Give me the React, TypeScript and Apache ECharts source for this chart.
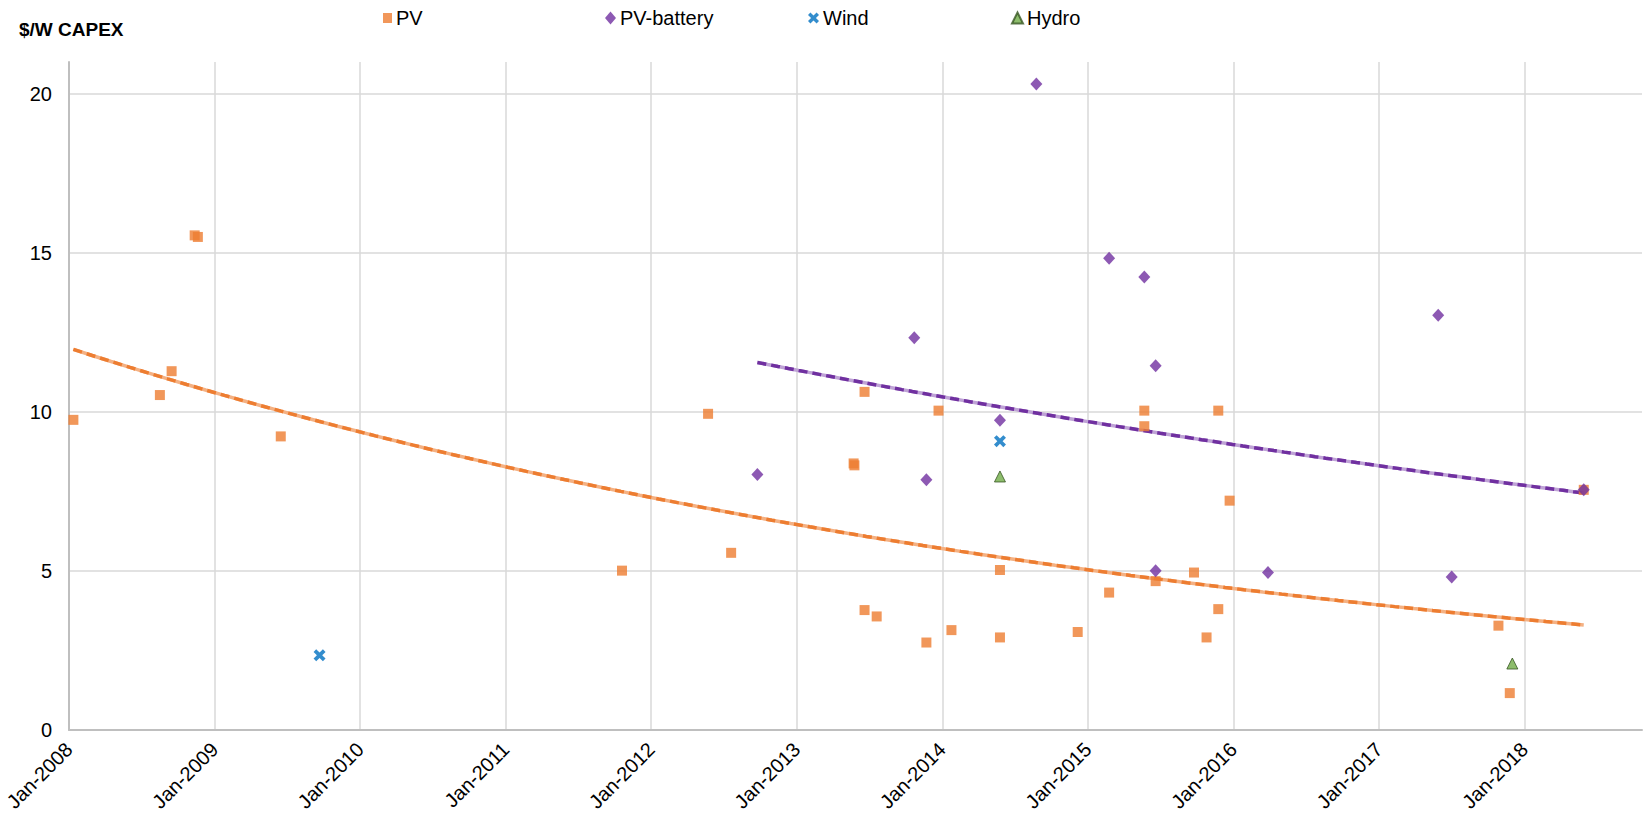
import React, { useEffect, useRef } from "react";
import * as echarts from "echarts";

// ---- Data (dates of projects and $/W CAPEX) ----
const PV_DATES = [
  "2008-01-12", "2008-08-16", "2008-09-15", "2008-11-12", "2008-11-20",
  "2009-06-15", "2011-10-19", "2012-05-22", "2012-07-19", "2013-05-22",
  "2013-05-24", "2013-06-19", "2013-06-19", "2013-07-19", "2013-11-22",
  "2013-12-22", "2014-01-24", "2014-05-24", "2014-05-24", "2014-12-06",
  "2015-02-24", "2015-05-21", "2015-05-21", "2015-06-19", "2015-09-24",
  "2015-10-25", "2015-11-24", "2015-11-24", "2015-12-22", "2017-10-27",
  "2017-11-25", "2018-05-28",
];
const PV_VALUES = [
  9.75, 10.53, 11.28, 15.55, 15.5,
  9.23, 5.01, 9.94, 5.57, 8.38,
  8.32, 10.63, 3.77, 3.57, 2.75,
  10.04, 3.14, 5.03, 2.91, 3.08,
  4.32, 10.04, 9.55, 4.68, 4.95,
  2.91, 3.8, 10.04, 7.21, 3.28,
  1.16, 7.55,
];

const PVB_DATES = [
  "2012-09-24", "2013-10-22", "2013-11-22", "2014-05-24", "2014-08-24",
  "2015-02-24", "2015-05-21", "2015-06-19", "2015-06-19", "2016-03-27",
  "2017-05-28", "2017-07-01", "2018-05-28",
];
const PVB_VALUES = [
  8.03, 12.33, 7.87, 9.74, 20.31,
  14.83, 14.24, 11.45, 5.01, 4.95,
  13.04, 4.81, 7.55,
];

const WIND_DATES = ["2009-09-21", "2014-05-24"];
const WIND_VALUES = [2.35, 9.08];

const HYDRO_DATES = ["2014-05-24", "2017-12-01"];
const HYDRO_VALUES = [7.97, 2.09];

const SERIES_NAMES = ["PV", "PV-battery", "Wind", "Hydro"];

// Axis extents / ticks
const X_START = "2008-01-01";
const X_END = "2018-10-22";
const X_TICK_MONTHS = 12;
const Y_MIN = 0;
const Y_MAX = 21;
const Y_TICK = 5;

const FONT = "'Liberation Sans', Arial, sans-serif";
const WIND_ICON =
  "path://M0,2.2 L2.2,0 L5,2.8 L7.8,0 L10,2.2 L7.2,5 L10,7.8 L7.8,10 L5,7.2 L2.2,10 L0,7.8 L2.8,5 Z";

function parseDate(d: string) {
  const [y, m, dd] = d.split("-").map(Number);
  return { y, m, dd };
}
const START = parseDate(X_START);
function toMonths(d: string) {
  const { y, m, dd } = parseDate(d);
  return (y - START.y) * 12 + (m - START.m) + (dd - START.dd) / 30.44;
}

function pairs(dates: string[], values: number[]) {
  return dates.map((d, i) => [toMonths(d), values[i]]);
}

// Exponential least-squares trend (ln y = a + b x), as Excel does
function expTrend(dates: string[], values: number[]) {
  const xs = dates.map(toMonths);
  const ls = values.map((v) => Math.log(v));
  const n = xs.length;
  const mx = xs.reduce((s, v) => s + v, 0) / n;
  const ml = ls.reduce((s, v) => s + v, 0) / n;
  let sxy = 0;
  let sxx = 0;
  for (let i = 0; i < n; i++) {
    sxy += (xs[i] - mx) * (ls[i] - ml);
    sxx += (xs[i] - mx) * (xs[i] - mx);
  }
  const b = sxy / sxx;
  const a = ml - b * mx;
  const x0 = Math.min(...xs);
  const x1 = Math.max(...xs);
  const pts: number[][] = [];
  const steps = 80;
  for (let i = 0; i <= steps; i++) {
    const x = x0 + ((x1 - x0) * i) / steps;
    pts.push([x, Math.exp(a + b * x)]);
  }
  return pts;
}

export default function App() {
  const ref = useRef<HTMLDivElement>(null);

  useEffect(() => {
    if (!ref.current) return;
    const chart = echarts.init(ref.current, undefined, { renderer: "svg" });

    const pvTrend = expTrend(PV_DATES, PV_VALUES);
    const pvbTrend = expTrend(PVB_DATES, PVB_VALUES);

    const legendBase = {
      top: 8,
      padding: 0,
      selectedMode: false,
      itemGap: 0,
      textStyle: { fontSize: 20, color: "#000", fontFamily: FONT, padding: [0, 0, 0, -1] },
    };

    const trendLine = (data: number[][], color: string, dashed: boolean, z: number) => ({
      type: "line",
      data,
      showSymbol: false,
      symbol: "none",
      silent: true,
      z,
      lineStyle: dashed
        ? { color, width: 3.5, type: [9, 5], cap: "butt" }
        : { color, width: 3.5, type: "solid" },
      emphasis: { disabled: true },
    });

    chart.setOption({
      animation: false,
      backgroundColor: "#ffffff",
      textStyle: { fontFamily: FONT },
      title: {
        text: "$/W CAPEX",
        left: 19,
        top: 20,
        padding: 0,
        textStyle: { fontSize: 19, fontWeight: "bold", color: "#000", fontFamily: FONT },
      },
      legend: [
        { ...legendBase, left: 383, data: [{ name: SERIES_NAMES[0], icon: "rect" }], itemWidth: 9, itemHeight: 10 },
        { ...legendBase, left: 605, data: [{ name: SERIES_NAMES[1], icon: "diamond" }], itemWidth: 11, itemHeight: 13 },
        { ...legendBase, left: 808, data: [{ name: SERIES_NAMES[2], icon: WIND_ICON }], itemWidth: 11, itemHeight: 11 },
        { ...legendBase, left: 1011, data: [{ name: SERIES_NAMES[3], icon: "triangle" }], itemWidth: 11, itemHeight: 11 },
      ],
      grid: { left: 69, right: 1, top: 62, bottom: 89, containLabel: false },
      xAxis: {
        type: "value",
        min: 0,
        max: toMonths(X_END),
        interval: X_TICK_MONTHS,
        axisLine: { show: true, lineStyle: { color: "#BFBFBF", width: 2 } },
        axisTick: { show: false },
        splitLine: {
          show: true,
          showMinLine: false,
          showMaxLine: false,
          lineStyle: { color: "#D9D9D9", width: 1.5 },
        },
        axisLabel: {
          rotate: 45,
          margin: 16,
          fontSize: 20,
          color: "#000",
          fontFamily: FONT,
          showMaxLabel: false,
          formatter: (v: number) => "Jan-" + (START.y + Math.round(v / 12)),
        },
      },
      yAxis: {
        type: "value",
        min: Y_MIN,
        max: Y_MAX,
        interval: Y_TICK,
        axisLine: { show: true, lineStyle: { color: "#BFBFBF", width: 2 } },
        axisTick: { show: false },
        splitLine: {
          show: true,
          showMaxLine: false,
          lineStyle: { color: "#D9D9D9", width: 1.5 },
        },
        axisLabel: {
          margin: 17,
          fontSize: 20,
          color: "#000",
          fontFamily: FONT,
          showMaxLabel: false,
        },
      },
      series: [
        { name: "PV trend", ...trendLine(pvTrend, "#F4B183", false, 2) },
        { name: "PV trend dash", ...trendLine(pvTrend, "#ED7D31", true, 3) },
        { name: "PV-battery trend", ...trendLine(pvbTrend, "#BFA3D6", false, 2) },
        { name: "PV-battery trend dash", ...trendLine(pvbTrend, "#7030A0", true, 3) },
        {
          name: SERIES_NAMES[0],
          type: "scatter",
          data: pairs(PV_DATES, PV_VALUES),
          symbol: "rect",
          symbolSize: [10, 10],
          itemStyle: { color: "#ED7D31" },
          z: 5,
        },
        {
          name: SERIES_NAMES[1],
          type: "scatter",
          data: pairs(PVB_DATES, PVB_VALUES),
          symbol: "diamond",
          symbolSize: [12, 13],
          itemStyle: { color: "#7030A0" },
          z: 6,
        },
        {
          name: SERIES_NAMES[2],
          type: "scatter",
          data: pairs(WIND_DATES, WIND_VALUES),
          symbol: WIND_ICON,
          symbolSize: 12,
          itemStyle: { color: "#0070C0" },
          z: 6,
        },
        {
          name: SERIES_NAMES[3],
          type: "scatter",
          data: pairs(HYDRO_DATES, HYDRO_VALUES),
          symbol: "triangle",
          symbolSize: 11,
          itemStyle: { color: "#70AD47", borderColor: "#375623", borderWidth: 1 },
          z: 6,
        },
      ],
    });

    return () => {
      chart.dispose();
    };
  }, []);

  return (
    <div
      ref={ref}
      style={{ position: "absolute", left: 0, top: 0, width: 1643, height: 819 }}
    />
  );
}
